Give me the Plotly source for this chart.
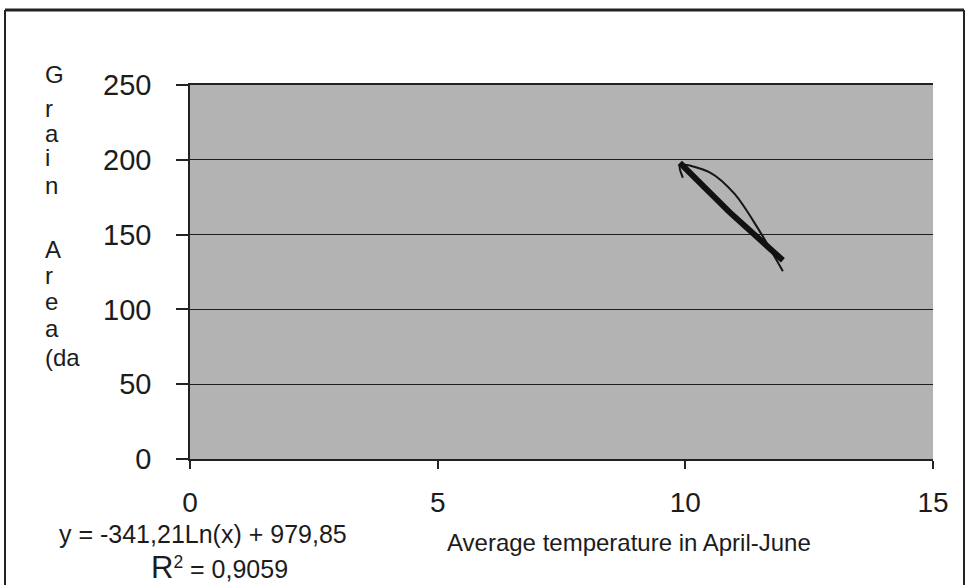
import numpy as np
import plotly.graph_objects as go

# Observed series (average April-June temperature vs grain area)
temperature = [9.95, 9.89, 10.50, 11.00, 11.45, 11.97]
grain_area = [188.0, 196.5, 191.5, 177.0, 155.0, 125.5]

# Logarithmic trendline y = a*ln(x) + b
trend_a = -341.21
trend_b = 979.85
r_squared = "0,9059"

x_ticks = [0, 5, 10, 15]
y_ticks = [0, 50, 100, 150, 200, 250]
title_letters = ["G", "r", "a", "i", "n", "A", "r", "e", "a", "(da"]

FIG_W, FIG_H = 966, 585
M_L, M_R, M_T, M_B = 190, 33, 85, 126
PLOT_W = FIG_W - M_L - M_R
PLOT_H = FIG_H - M_T - M_B


def px(xp):
    return (xp - M_L) / PLOT_W


def py(yp):
    return (FIG_H - M_B - yp) / PLOT_H


FONT = "Arial, Liberation Sans, sans-serif"
INK = "#1c1c1c"

trend_x = np.linspace(min(temperature), max(temperature), 50)
trend_y = trend_a * np.log(trend_x) + trend_b

fig = go.Figure()
fig.add_trace(go.Scatter(
    x=temperature, y=grain_area, mode="lines",
    line=dict(color="#151515", width=2, shape="spline", smoothing=0.8),
    hoverinfo="skip", showlegend=False,
))
fig.add_trace(go.Scatter(
    x=trend_x, y=trend_y, mode="lines",
    line=dict(color="#111111", width=6),
    hoverinfo="skip", showlegend=False,
))

fig.update_xaxes(
    range=[0, 15], tickvals=x_ticks, ticktext=[str(v) for v in x_ticks],
    showgrid=False, zeroline=False, showline=True, linecolor="#222", linewidth=1.5,
    mirror=True,
    ticks="outside", ticklen=8, tickcolor="#222", tickwidth=1.5,
    tickfont=dict(family=FONT, size=28, color=INK), ticklabelstandoff=10,
)
fig.update_yaxes(
    range=[0, 250], tickvals=y_ticks, ticktext=[str(v) for v in y_ticks],
    showgrid=True, gridcolor="#1e1e1e", gridwidth=1.4,
    zeroline=False, showline=True, linecolor="#222", linewidth=1.5,
    ticks="outside", ticklen=12, tickcolor="#222", tickwidth=1.5,
    tickfont=dict(family=FONT, size=29, color=INK), ticklabelstandoff=19,
)

annotations = []
# Stacked vertical y-axis title
letter_centres = [74, 108, 133, 157, 185, 249, 275, 301, 328, 357]
for letter, yc in zip(title_letters, letter_centres):
    annotations.append(dict(
        text=letter, xref="paper", yref="paper", x=px(43), y=py(yc),
        xanchor="left", yanchor="middle", showarrow=False,
        font=dict(family=FONT, size=24, color=INK),
    ))

annotations.append(dict(
    text="Average temperature in April-June", xref="paper", yref="paper",
    x=px(629), y=py(542), xanchor="center", yanchor="middle", showarrow=False,
    font=dict(family=FONT, size=24, color=INK),
))
annotations.append(dict(
    text=f"y = {trend_a:.2f}Ln(x) + {trend_b:.2f}".replace(".", ","),
    xref="paper", yref="paper", x=px(203), y=py(534),
    xanchor="center", yanchor="middle", showarrow=False,
    font=dict(family=FONT, size=25, color=INK),
))
annotations.append(dict(
    text=f"<span style='font-size:31px'>R</span><sup>2</sup> = {r_squared}",
    xref="paper", yref="paper", x=px(219), y=py(567),
    xanchor="center", yanchor="middle", showarrow=False,
    font=dict(family=FONT, size=25, color=INK),
))

shapes = [
    # outer chart frame
    dict(type="line", xref="paper", yref="paper", x0=px(5), x1=px(964),
         y0=py(10), y1=py(10), line=dict(color="#222", width=3)),
    dict(type="line", xref="paper", yref="paper", x0=px(5), x1=px(5),
         y0=py(10), y1=py(600), line=dict(color="#222", width=2)),
    dict(type="line", xref="paper", yref="paper", x0=px(964), x1=px(964),
         y0=py(10), y1=py(600), line=dict(color="#222", width=2)),
]

fig.update_layout(
    width=FIG_W, height=FIG_H,
    margin=dict(l=M_L, r=M_R, t=M_T, b=M_B),
    paper_bgcolor="white", plot_bgcolor="#b3b3b3",
    annotations=annotations, shapes=shapes,
)

fig.write_html("out.html")
